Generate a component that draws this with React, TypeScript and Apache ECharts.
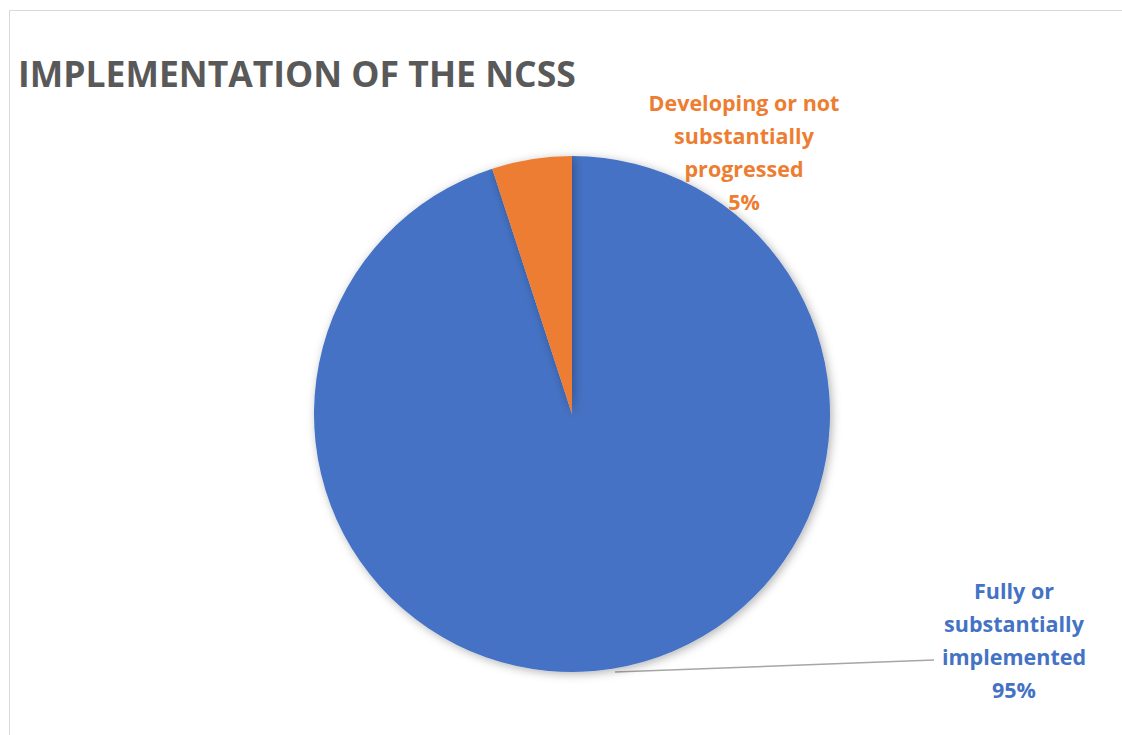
import React, { useEffect, useRef } from "react";
import * as echarts from "echarts";

const categories = ["Fully or substantially implemented", "Developing or not substantially progressed"];
const labelLines = [
  ["Fully or", "substantially", "implemented"],
  ["Developing or not", "substantially", "progressed"],
];
const values = [95, 5];
const colors = ["#4472C4", "#ED7D31"];
const titleText = "IMPLEMENTATION OF THE NCSS";

export default function App() {
  const ref = useRef<HTMLDivElement>(null);
  useEffect(() => {
    if (!ref.current) return;
    const chart = echarts.init(ref.current, null, { renderer: "svg" });
    const font = "'Open Sans', 'Noto Sans', sans-serif";
    chart.setOption({
      animation: false,
      backgroundColor: "#ffffff",
      title: {
        text: titleText,
        left: 13,
        top: 50,
        textStyle: { fontFamily: font, fontSize: 35.5, fontWeight: "bold", color: "#595959" },
      },
      graphic: [
        {
          type: "rect",
          shape: { x: 9.5, y: 10.5, width: 2000, height: 2000 },
          style: { fill: "none", stroke: "#d9d9d9", lineWidth: 1 },
          silent: true,
        },
      ],
      series: [
        {
          type: "pie",
          center: [572, 414],
          radius: 258,
          startAngle: 90,
          clockwise: true,
          itemStyle: {
            borderWidth: 0,
            shadowBlur: 10,
            shadowColor: "rgba(0,0,0,0.3)",
            shadowOffsetX: 2,
            shadowOffsetY: 2,
          },
          label: {
            show: true,
            position: "outside",
            fontFamily: font,
            fontSize: 21.5,
            fontWeight: "bold",
            lineHeight: 33,
            align: "center",
            formatter: (p: any) => labelLines[p.dataIndex].join("\n") + "\n" + Math.round(p.percent) + "%",
          },
          labelLine: { show: true, lineStyle: { color: "#a6a6a6", width: 1.5 } },
          labelLayout: (p: any) => {
            if (p.dataIndex === 0) {
              return {
                x: 1014,
                y: 640,
                align: "center",
                verticalAlign: "middle",
                labelLinePoints: [
                  [615, 672],
                  [934, 660],
                  [934, 660],
                ],
              };
            }
            return { x: 744, y: 152, align: "center", verticalAlign: "middle" };
          },
          data: categories.map((c, i) => ({
            name: c,
            value: values[i],
            itemStyle: { color: colors[i] },
            label: { color: colors[i] },
            labelLine: { show: i === 0 },
          })),
        },
      ],
    });
    return () => chart.dispose();
  }, []);
  return (
    <div
      ref={ref}
      style={{ position: "fixed", left: 0, top: 0, width: 1122, height: 735 }}
    />
  );
}
